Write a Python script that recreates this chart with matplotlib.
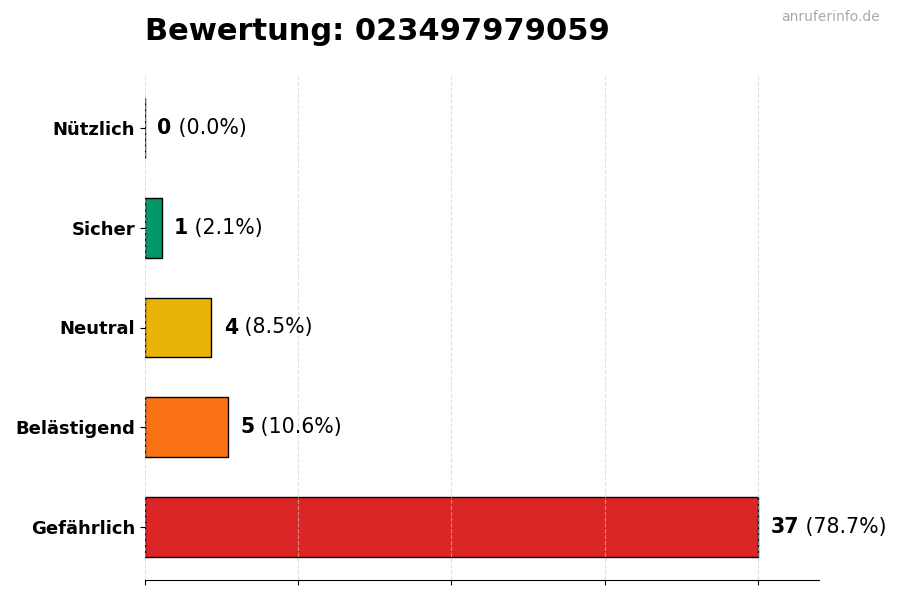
import matplotlib
matplotlib.use("Agg")
import matplotlib.pyplot as plt

categories = ["Gefährlich", "Belästigend", "Neutral", "Sicher", "Nützlich"]
counts = [37, 5, 4, 1, 0]
colors = ["#dc2626", "#f97316", "#eab308", "#059669", "#2563eb"]
number = "023497979059"

total = sum(counts)
maxval = max(counts)

fig = plt.figure(figsize=(9, 6), dpi=100)
ax = fig.add_axes([145/900, 20/600, 674/900, 505/600])

# grid over the bars, like the original
ax.barh(categories, counts, height=0.6, color=colors, edgecolor="black", linewidth=1, zorder=1)

ax.set_xlim(0, maxval * 1.1)
ax.set_xticks([maxval * i / 4 for i in range(5)])
ax.set_xticklabels([])
ax.grid(axis="x", linestyle="--", color="#cccccc", alpha=0.6, zorder=2)
ax.set_axisbelow(False)
for s in ["top", "right", "left"]:
    ax.spines[s].set_visible(False)
ax.tick_params(axis="y", labelsize=13)
for lbl in ax.get_yticklabels():
    lbl.set_fontweight("bold")

for i, v in enumerate(counts):
    t1 = ax.annotate(str(v), xy=(v, i), xytext=(9, 0), textcoords="offset points",
                     va="center", ha="left", fontsize=14.8, fontweight="bold")
    pct = v / total * 100
    ax.annotate(" (%.1f%%)" % pct, xy=(1, 0), xycoords=t1, va="bottom", ha="left", fontsize=14.8)

fig.text(145/900, 1 - 31/600, "Bewertung: " + number, fontsize=22, fontweight="bold", va="center", ha="left")
fig.text(880/900, 1 - 17/600, "anruferinfo.de", fontsize=10, color="#aaaaaa", va="center", ha="right")

fig.savefig("out.png", dpi=100)
